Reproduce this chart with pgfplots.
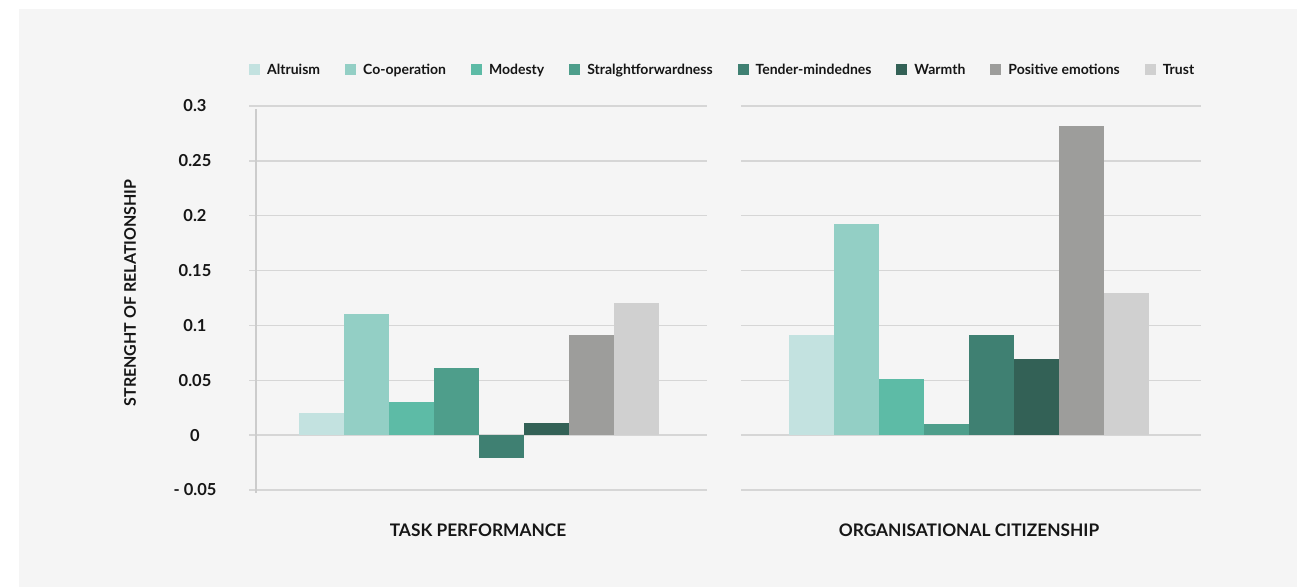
\documentclass[border=0pt]{standalone}
\usepackage{fontspec}
\setmainfont{Lato}
\usepackage{pgfplots}
\pgfplotsset{compat=1.18}
\definecolor{bg}{HTML}{F5F5F5}
\definecolor{gridc}{HTML}{D6D6D6}
\definecolor{axc}{HTML}{CCCCCC}
\definecolor{txt}{HTML}{161616}
\definecolor{c1}{HTML}{C3E2E0}
\definecolor{c2}{HTML}{93CFC5}
\definecolor{c3}{HTML}{5DBBA6}
\definecolor{c4}{HTML}{4E9E8B}
\definecolor{c5}{HTML}{3F8072}
\definecolor{c6}{HTML}{336156}
\definecolor{c7}{HTML}{9D9D9B}
\definecolor{c8}{HTML}{D0D0D0}
\pgfplotsset{panel/.style={
  scale only axis, height=384pt,
  ymin=-0.05, ymax=0.3,
  ytick={-0.05,0,0.05,0.1,0.15,0.2,0.25,0.3},
  ybar=0pt, bar width=45pt,
  ymajorgrids, grid style={color=gridc, line width=1.5pt},
  axis line style={draw=none},
  major tick length=0pt,
  xtick=\empty,
  clip=false,
}}
\begin{document}
\begin{tikzpicture}[x=1pt,y=1pt]
\useasboundingbox (0,0) rectangle (1297,587);
\fill[white] (0,0) rectangle (1297,587);
\fill[bg] (19,0) rectangle (1297,578);
\begin{axis}[panel, at={(249pt,97pt)}, anchor=south west, width=458pt,
  xmin=-230, xmax=228,
  yticklabels={- 0.05,0,0.05,0.1,0.15,0.2,0.25,0.3},
  yticklabel style={anchor=center, xshift=-54pt, font=\fontsize{16.5}{18}\selectfont\bfseries, text=txt},
  legend columns=8,
  legend image code/.code={\fill[#1] (0pt,-5.5pt) rectangle (11pt,5.5pt);},
  legend style={draw=none, fill=none, at={(axis description cs:0,1.09375)}, anchor=west,
    inner xsep=0pt, inner ysep=0pt,
    font=\fontsize{14}{16}\selectfont\bfseries, text=txt,
    nodes={inner xsep=0pt, inner ysep=1pt},
    /tikz/every odd column/.append style={column sep=7pt},
    /tikz/every even column/.append style={column sep=25pt}},
]
\addplot[fill=c1, draw=none] coordinates {(0,0.02)};
\addplot[fill=c2, draw=none] coordinates {(0,0.11)};
\addplot[fill=c3, draw=none] coordinates {(0,0.03)};
\addplot[fill=c4, draw=none] coordinates {(0,0.061)};
\addplot[fill=c5, draw=none] coordinates {(0,-0.021)};
\addplot[fill=c6, draw=none] coordinates {(0,0.011)};
\addplot[fill=c7, draw=none] coordinates {(0,0.091)};
\addplot[fill=c8, draw=none] coordinates {(0,0.12)};
\legend{Altruism,Co-operation,Modesty,Stralghtforwardness,Tender-mindednes,Warmth,Positive emotions,Trust}
\end{axis}
\begin{axis}[panel, at={(741pt,97pt)}, anchor=south west, width=460pt,
  xmin=-228, xmax=232, yticklabels=\empty]
\addplot[fill=c1, draw=none] coordinates {(0,0.091)};
\addplot[fill=c2, draw=none] coordinates {(0,0.192)};
\addplot[fill=c3, draw=none] coordinates {(0,0.051)};
\addplot[fill=c4, draw=none] coordinates {(0,0.010)};
\addplot[fill=c5, draw=none] coordinates {(0,0.091)};
\addplot[fill=c6, draw=none] coordinates {(0,0.069)};
\addplot[fill=c7, draw=none] coordinates {(0,0.282)};
\addplot[fill=c8, draw=none] coordinates {(0,0.130)};
\end{axis}
\draw[axc, line width=2pt] (256,94) -- (256,478);
\node[rotate=90, text=txt, font=\fontsize{16}{18}\selectfont\bfseries] at (130,294) {STRENGHT OF RELATIONSHIP};
\node[text=txt, font=\fontsize{17.3}{19}\selectfont\bfseries] at (478,57) {TASK PERFORMANCE};
\node[text=txt, font=\fontsize{17.3}{19}\selectfont\bfseries] at (969,57) {ORGANISATIONAL CITIZENSHIP};
\end{tikzpicture}
\end{document}
